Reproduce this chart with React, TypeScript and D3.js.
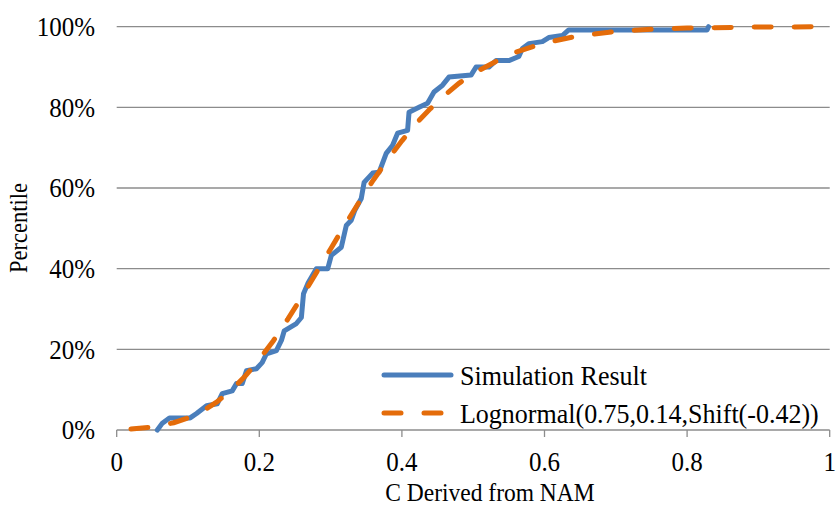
import React from "react";
import * as d3 from "d3";

const simX = [0.057,0.064,0.074,0.103,0.112,0.126,0.141,0.148,0.162,0.168,0.176,0.182,0.196,0.204,0.210,0.224,0.231,0.235,0.252,0.259,0.262,0.268,0.280,0.296,0.301,0.315,0.322,0.329,0.334,0.343,0.347,0.359,0.368,0.378,0.387,0.394,0.408,0.410,0.424,0.436,0.445,0.457,0.466,0.497,0.504,0.522,0.532,0.550,0.564,0.569,0.578,0.597,0.606,0.625,0.634,0.828,0.830];
const simY = [0.0,1.7,3.0,3.0,4.1,6.0,6.5,9.0,9.7,11.5,11.5,14.7,15.2,16.7,18.9,19.7,22.2,24.6,26.4,27.9,33.8,36.3,40.0,40.0,43.3,45.3,50.7,52.0,54.5,57.4,61.4,63.7,63.9,68.6,70.6,73.6,74.3,78.8,80.0,81.0,83.8,85.5,87.5,88.0,90.0,90.0,91.6,91.6,92.6,94.6,95.8,96.3,97.3,97.8,99.2,99.2,100.0];

const fitX = [0.02,0.05,0.08,0.10,0.12,0.14,0.16,0.18,0.20,0.22,0.24,0.26,0.28,0.30,0.32,0.34,0.36,0.38,0.40,0.42,0.44,0.46,0.48,0.50,0.55,0.60,0.65,0.70,0.75,0.80,0.90,1.00];
const fitY = [0.26,0.75,1.8,3.0,4.6,6.9,9.75,13.3,17.5,22.2,27.5,33.1,39.0,44.9,50.8,56.5,62.0,67.0,71.7,76.0,79.7,83.0,85.95,88.4,93.1,96.0,97.8,98.8,99.37,99.67,99.92,99.98];

const xTicks = [0, 0.2, 0.4, 0.6, 0.8, 1];
const yTicks = [0, 20, 40, 60, 80, 100];
const seriesNames = ["Simulation Result", "Lognormal(0.75,0.14,Shift(-0.42))"];
const xTitle = "C Derived from NAM";
const yTitle = "Percentile";

const W = 836, H = 513;
const BLUE = "#4A7EBB";
const ORANGE = "#E46C0A";
const GRID = "#8C8C8C";
const FONT = "'Liberation Serif', 'Times New Roman', serif";
const SY = 1.08;

function T({ x, y, anchor, size, rotate, children }: { x: number; y: number; anchor?: string; size: number; rotate?: number; children: React.ReactNode }) {
  const tr = rotate ? `translate(${x},${y}) rotate(${rotate}) scale(1,${SY})` : `translate(${x},${y}) scale(1,${SY})`;
  return (
    <text transform={tr} dy="0.35em" textAnchor={anchor || "start"} fontFamily={FONT} fontSize={size} fill="#000">
      {children}
    </text>
  );
}

export default function App() {
  const x = d3.scaleLinear().domain([0, 1]).range([116.7, 829.7]);
  const y = d3.scaleLinear().domain([0, 100]).range([430, 26.7]);
  const line = d3.line<[number, number]>().x(d => x(d[0])).y(d => y(d[1]));
  const simPts: [number, number][] = simX.map((v, i) => [v, simY[i]]);
  const fitPts: [number, number][] = fitX.map((v, i) => [v, fitY[i]]);
  const fmtX = (v: number) => String(v);

  return (
    <div style={{ position: "absolute", left: 0, top: 0 }}>
      <svg width={W} height={H} style={{ display: "block", background: "#fff" }}>
        {yTicks.filter(t => t > 0).map(t => (
          <line key={t} x1={x(0)} x2={x(1)} y1={y(t)} y2={y(t)} stroke={GRID} strokeWidth={1.3} />
        ))}
        <line x1={x(0)} x2={x(1)} y1={y(0)} y2={y(0)} stroke={GRID} strokeWidth={1.3} />
        {xTicks.map(t => (
          <line key={t} x1={x(t)} x2={x(t)} y1={y(0)} y2={y(0) + 7} stroke={GRID} strokeWidth={1.3} />
        ))}
        {yTicks.map(t => (
          <T key={t} x={95} y={y(t)} anchor="end" size={25}>{t + "%"}</T>
        ))}
        {xTicks.map(t => (
          <T key={t} x={x(t)} y={462} anchor="middle" size={25}>{fmtX(t)}</T>
        ))}
        <T x={490} y={492} anchor="middle" size={23.5}>{xTitle}</T>
        <T x={18} y={228} anchor="middle" size={22.5} rotate={-90}>{yTitle}</T>

        <path d={line(simPts) || ""} fill="none" stroke={BLUE} strokeWidth={5} strokeLinejoin="round" strokeLinecap="round" />
        <path d={line(fitPts) || ""} fill="none" stroke={ORANGE} strokeWidth={5} strokeDasharray="17,23" strokeLinecap="round" />

        <line x1={384} x2={451} y1={375} y2={375} stroke={BLUE} strokeWidth={5} strokeLinecap="round" />
        <line x1={384} x2={451} y1={413} y2={413} stroke={ORANGE} strokeWidth={5} strokeDasharray="17,23" strokeLinecap="round" />
        <T x={460} y={375} size={26}>{seriesNames[0]}</T>
        <T x={460} y={413} size={26}>{seriesNames[1]}</T>
      </svg>
    </div>
  );
}
